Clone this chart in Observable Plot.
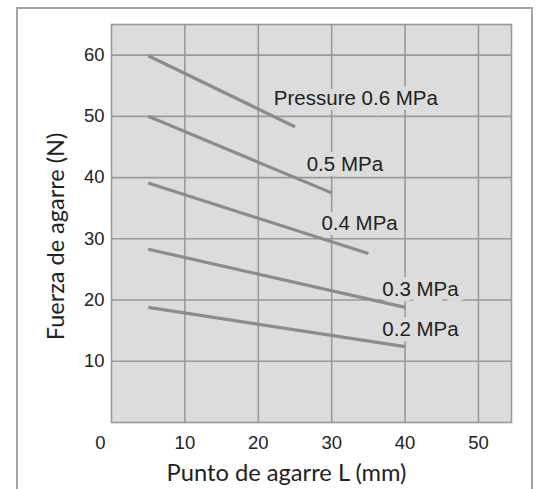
<!DOCTYPE html>
<html>
<head>
<meta charset="utf-8">
<script src="https://cdn.jsdelivr.net/npm/d3@7"></script>
<script src="https://cdn.jsdelivr.net/npm/@observablehq/plot@0.6"></script>
<style>
  html, body { margin: 0; padding: 0; background: #ffffff; }
  #wrap { position: relative; width: 539px; height: 489px; overflow: hidden; }
  #border { position: absolute; left: 16px; top: 7px; width: 513px; height: 520px; border: 2px solid #a4a4a4; box-sizing: content-box; }
  #chart { position: absolute; left: 0; top: 0; }
</style>
</head>
<body>
<div id="wrap"><div id="border"></div><div id="chart"></div></div>
<script>
// Series: one straight line per supply pressure
const labels = ["Pressure 0.6 MPa", "0.5 MPa", "0.4 MPa", "0.3 MPa", "0.2 MPa"];
const startL = [5, 5, 5, 5, 5];
const startF = [59.9, 50, 39.1, 28.3, 18.8];
const endL = [25, 30, 35, 40, 40];
const endF = [48.3, 37.5, 27.6, 18.8, 12.4];
// label anchor positions (data units)
const labelL = [33.3, 31.8, 33.8, 42.1, 42.1];
const labelF = [52.9, 42.1, 32.5, 21.7, 15.2];
// tick labels
const xTicks = [10, 20, 30, 40, 50];
const yTicks = [10, 20, 30, 40, 50, 60];
const originLabel = ["0"];
const xTitle = "Punto de agarre L (mm)";
const yTitle = "Fuerza de agarre (N)";

const lines = labels.map((d, i) => ({label: d, x1: startL[i], y1: startF[i], x2: endL[i], y2: endF[i]}));
const texts = labels.map((d, i) => ({label: d, x: labelL[i], y: labelF[i]}));

const tickFont = "'Liberation Sans', Arial, Helvetica, sans-serif";
const titleFont = "Lato, 'Open Sans', sans-serif";

const chart = Plot.plot({
  width: 539,
  height: 489,
  marginLeft: 111,
  marginRight: 28,
  marginTop: 24,
  marginBottom: 67,
  style: {background: "transparent", fontFamily: tickFont, fontSize: "18px", color: "#222", overflow: "visible"},
  x: {domain: [0, 54.5]},
  y: {domain: [0, 65]},
  marks: [
    Plot.frame({fill: "#dcdcdc"}),
    Plot.gridX(xTicks, {stroke: "#9a9a9a", strokeOpacity: 1, strokeWidth: 1.6}),
    Plot.gridY(yTicks, {stroke: "#9a9a9a", strokeOpacity: 1, strokeWidth: 1.6}),
    Plot.frame({stroke: "#9a9a9a", strokeWidth: 1.6}),
    Plot.text(texts, {x: "x", y: "y", text: "label", fontSize: 20.5, fill: "#222", textAnchor: "middle", lineAnchor: "middle",
      stroke: "#dcdcdc", strokeWidth: 10, strokeLinejoin: "miter", paintOrder: "stroke", fontFamily: tickFont}),
    Plot.link(lines, {x1: "x1", y1: "y1", x2: "x2", y2: "y2", stroke: "#8c8c8c", strokeWidth: 3.2}),
    Plot.axisX(xTicks, {tickSize: 0, tickPadding: 13, label: null, fontSize: 18.5, fill: "#222"}),
    Plot.axisY(yTicks, {tickSize: 0, tickPadding: 7, label: null, fontSize: 18.5, fill: "#222"}),
    Plot.text(originLabel, {x: () => 0, y: () => 0, text: d => d, lineAnchor: "top", dy: 13, dx: -11, fontSize: 18.5, fill: "#222"}),
    Plot.text([xTitle], {frameAnchor: "bottom", text: d => d, textAnchor: "middle", lineAnchor: "middle", dx: -25, dy: 51, fontSize: 23.7, fontWeight: 400, fontFamily: titleFont, fill: "#222"}),
    Plot.text([yTitle], {frameAnchor: "left", text: d => d, textAnchor: "middle", lineAnchor: "middle", rotate: -90, dx: -55.5, dy: 13, fontSize: 23.5, fontWeight: 400, fontFamily: titleFont, fill: "#222"})
  ]
});
document.getElementById("chart").appendChild(chart);
</script>
</body>
</html>
